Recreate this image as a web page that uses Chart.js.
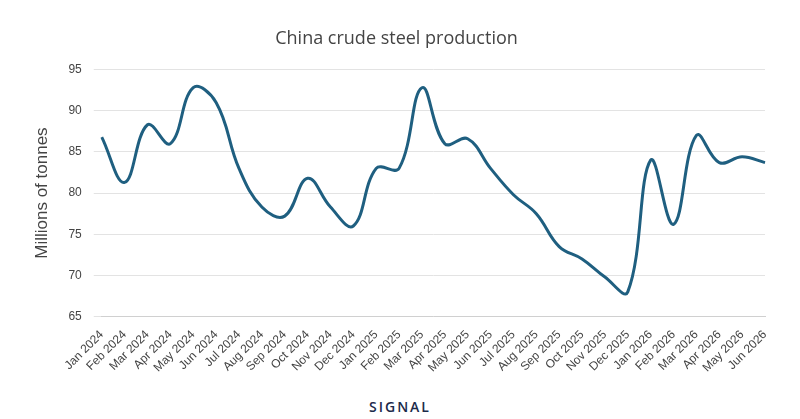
<!DOCTYPE html>
<html>
<head>
<meta charset="utf-8">
<script src="https://cdn.jsdelivr.net/npm/chart.js@4"></script>
<style>
  body { margin: 0; background: #fff; font-family: "Open Sans", sans-serif; }
  #wrap { position: relative; width: 800px; height: 419px; }
  #logo { position: absolute; left: 0; width: 800px; top: 397px; text-align: center;
          color: #1b2a4a; font-size: 14px; font-weight: 600; letter-spacing: 2px; }
</style>
</head>
<body>
<div id="wrap">
  <canvas id="chart" width="800" height="378"></canvas>
  <div id="logo">SIGNAL</div>
</div>
<script>
const months = ['Jan 2024','Feb 2024','Mar 2024','Apr 2024','May 2024','Jun 2024','Jul 2024','Aug 2024','Sep 2024','Oct 2024','Nov 2024','Dec 2024',
  'Jan 2025','Feb 2025','Mar 2025','Apr 2025','May 2025','Jun 2025','Jul 2025','Aug 2025','Sep 2025','Oct 2025','Nov 2025','Dec 2025',
  'Jan 2026','Feb 2026','Mar 2026','Apr 2026','May 2026','Jun 2026'];
const production = [86.8, 81.3, 88.3, 86, 92.8, 91, 83, 78.3, 77.2, 81.8, 78.3, 76,
  83, 83, 92.8, 86, 86.6, 83, 79.8, 77.5, 73.5, 72, 69.8, 68,
  84, 76.2, 87, 83.7, 84.4, 83.7];

new Chart(document.getElementById('chart'), {
  type: 'line',
  data: {
    labels: months,
    datasets: [{
      data: production,
      borderColor: '#1f5f80',
      borderWidth: 3,
      pointRadius: 0,
      tension: 0.4,
      fill: false
    }]
  },
  options: {
    responsive: false,
    animation: false,
    layout: { padding: { left: 28, right: 35, top: 16 } },
    plugins: {
      legend: { display: false },
      title: {
        display: true,
        text: 'China crude steel production',
        color: '#444',
        font: { size: 18, family: 'Open Sans', weight: 'normal' },
        padding: { top: 12, bottom: 20 }
      }
    },
    scales: {
      x: {
        grid: { display: false },
        border: { color: '#d0d0d0' },
        ticks: { color: '#444', font: { size: 12 }, maxRotation: 45, minRotation: 45, autoSkip: false }
      },
      y: {
        min: 65, max: 95,
        ticks: { stepSize: 5, color: '#444', font: { size: 12 }, padding: 12 },
        grid: { color: '#e3e3e3' },
        border: { display: false },
        title: { display: true, text: 'Millions of tonnes', color: '#444', font: { size: 17 } }
      }
    }
  }
});
</script>
</body>
</html>
